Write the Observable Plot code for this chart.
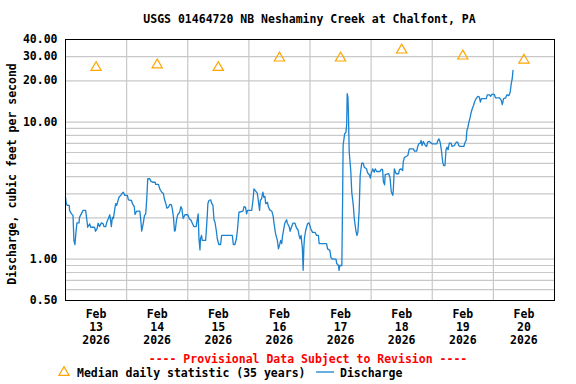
<!DOCTYPE html>
<html><head><meta charset="utf-8">
<script src="https://cdn.jsdelivr.net/npm/d3@7"></script>
<script src="https://cdn.jsdelivr.net/npm/@observablehq/plot@0.6"></script>
<style>body{margin:0;background:#fff} svg{display:block}</style>
</head><body><div id="chart"></div>
<script>
// Discharge: hours since 2026-02-13 00:00, cfs
const hours = [0,0.3,0.7,1.5,1.6,2.3,2.95,3.3,3.7,4.1,4.5,5.3,5.5,6.3,6.9,7.9,8.5,8.7,9.5,9.9,11.4,11.8,12.4,12.8,13.4,14.1,14.8,15.1,15.8,16.2,16.8,17.4,17.7,18.0,18.4,18.8,19.3,19.7,20.1,20.7,21.0,21.7,22.3,22.7,23.3,24.3,24.7,25.9,26.3,27.0,27.3,27.9,29.2,29.7,29.9,30.5,31.0,31.5,31.9,32.3,33.1,33.5,34.2,35.2,35.4,36.5,37.0,37.8,38.4,38.8,39.4,39.8,40.4,41.0,41.6,42.0,42.4,42.8,43.1,43.6,44.1,44.7,45.0,45.3,45.7,46.2,46.9,48.0,48.6,49.3,49.8,50.4,51.3,51.7,52.1,52.4,52.8,53.0,53.4,53.7,55.0,55.3,55.7,55.9,56.3,57.0,57.4,57.9,58.3,58.7,59.2,59.6,60.2,60.9,61.3,65.5,65.9,66.5,67.1,67.5,68.1,69.7,70.1,70.7,71.1,71.5,73.1,73.6,74.0,75.0,75.3,75.7,76.2,76.5,77.0,77.5,77.9,78.3,78.6,79.3,79.7,80.2,81.0,81.5,81.9,82.5,83.2,83.6,84.1,84.5,84.9,85.2,85.6,86.1,86.8,87.1,87.8,88.2,88.7,89.3,90.1,90.7,91.3,91.7,92.1,92.5,92.8,93.0,93.3,93.6,93.8,94.3,95.0,95.6,96.3,97.0,98.0,98.6,99.3,99.6,102.5,102.9,103.8,104.2,104.9,106.2,106.5,107.2,107.4,107.7,108.5,108.8,109.0,109.6,110.1,110.4,110.6,110.9,111.1,111.4,112.0,112.4,113.0,113.4,114.0,114.4,114.8,115.3,115.7,116.3,116.9,117.3,118.2,118.6,119.3,119.7,120.0,120.6,121.2,121.6,122.2,123.5,123.9,124.5,124.8,125.3,125.5,126.9,127.4,127.9,128.5,128.7,129.1,129.8,130.8,131.1,131.7,132.4,132.6,133.0,133.7,134.4,135.0,136.6,137.0,137.9,138.3,138.7,139.3,139.6,140.0,140.5,141.3,141.8,142.2,142.9,143.9,145.8,146.2,146.6,147.1,147.6,148.1,148.5,149.0,149.4,149.8,150.2,150.7,151.4,151.8,152.7,153.4,154.0,154.4,154.9,156.4,156.9,157.3,157.6,158.0,158.4,158.9,159.3,159.7,160.2,160.6,161.2,161.9,162.5,162.9,163.3,165.2,165.6,166.5,166.9,167.4,168.4,168.8,170.4,171.1,171.5,172.0,172.8,173.3,174.1,174.6,175.0,175.4,175.7];
const cfs = [2.83,2.54,2.47,2.47,2.27,2.15,2.08,1.37,1.28,1.57,1.84,1.84,2.02,2.16,2.27,2.27,1.86,1.71,1.81,1.71,1.71,1.60,1.67,1.83,1.73,1.84,1.81,1.73,1.73,1.86,1.97,2.11,1.92,1.73,2.02,1.98,2.29,2.54,2.47,2.71,2.83,2.92,3.03,3.08,2.92,2.92,2.71,2.68,2.54,2.42,2.12,2.24,2.24,1.81,1.60,1.81,2.08,2.14,2.76,3.86,3.86,3.71,3.64,3.64,3.51,3.51,3.26,3.08,3.03,2.76,2.54,2.36,2.39,2.51,2.49,2.29,2.02,1.60,1.62,1.94,2.12,2.18,2.27,2.42,2.33,1.98,2.11,2.11,1.97,1.92,1.83,1.73,1.73,1.92,2.14,1.41,1.17,1.41,1.49,1.37,1.37,1.62,2.14,2.54,2.68,2.71,2.55,2.47,1.94,1.86,1.62,1.41,1.28,1.28,1.49,1.49,1.28,1.28,1.41,1.62,2.20,2.24,2.42,2.39,2.14,2.27,2.27,2.68,3.26,3.08,3.03,2.68,2.27,2.68,2.76,3.08,2.83,2.87,2.54,2.60,2.39,2.29,2.24,2.08,1.81,1.53,1.37,1.19,1.28,1.37,1.30,1.47,1.62,1.83,1.94,1.83,1.73,1.60,1.71,1.83,1.83,1.69,1.64,1.49,1.41,1.49,1.30,1.22,0.83,1.22,1.41,1.62,1.81,1.84,1.67,1.57,1.57,1.49,1.49,1.30,1.30,1.19,1.16,1.03,1.00,1.00,0.93,0.90,0.83,0.90,0.90,2.68,6.75,8.21,8.43,9.55,16.1,15.2,11.2,6.03,4.43,3.08,2.47,1.97,1.62,1.49,1.57,2.27,4.08,5.01,5.01,4.69,4.56,4.27,4.13,3.90,4.20,4.56,4.31,4.56,4.36,4.36,4.51,4.51,3.69,3.49,4.13,4.20,3.96,3.12,2.92,3.17,4.56,4.20,4.20,4.48,4.56,4.43,5.10,5.49,5.61,5.70,6.38,6.38,6.14,6.14,6.64,6.94,7.01,7.34,6.75,7.22,6.75,6.64,7.13,7.22,6.94,6.94,7.34,7.55,7.13,6.21,5.10,4.82,4.82,6.28,6.56,6.28,7.01,7.01,6.64,6.75,7.13,7.13,6.75,6.64,6.64,7.13,7.34,8.68,9.17,9.98,10.85,11.8,12.5,13.2,14.0,14.8,15.4,15.2,14.0,14.8,14.8,15.8,15.8,15.4,15.9,15.9,15.0,15.0,14.4,13.4,14.8,15.0,15.8,15.6,16.5,19.0,20.7,23.8];
// Median daily statistic (35 years)
const medianDays = [13,14,15,16,17,18,19,20];
const medianCfs = [25.0,26.1,25.0,29.3,29.3,33.5,30.3,28.3];
// Axis ticks / grid
const yTickValues = [0.5,1,10,20,30,40];
const yGridValues = [0.6,0.7,0.8,0.9,1,2,3,4,5,6,7,8,9,10,20,30];
const xGridDays = [14,15,16,17,18,19,20];
const xLabelDays = [13,14,15,16,17,18,19,20];

const t0 = Date.UTC(2026,1,13);
const flow = hours.map((h,i)=>({date:new Date(t0+h*3600e3), cfs:cfs[i]}));
const med = medianDays.map((d,i)=>({date:new Date(Date.UTC(2026,1,d,12)), cfs:medianCfs[i]}));
const xGrid = xGridDays.map(d=>new Date(Date.UTC(2026,1,d)));
const xLabels = xLabelDays.map(d=>new Date(Date.UTC(2026,1,d,12)));

const font = "'DejaVu Sans Mono', monospace";
const chart = Plot.plot({
  width:576, height:384,
  marginLeft:65, marginRight:22, marginTop:39, marginBottom:84,
  style:{fontFamily:font, fontWeight:"bold", fontSize:"11.5px", background:"white", color:"black", overflow:"visible"},
  x:{type:"utc", domain:[new Date(Date.UTC(2026,1,13)), new Date(Date.UTC(2026,1,21))]},
  y:{type:"log", domain:[0.5,40]},
  marks:[
    Plot.ruleY(yGridValues,{stroke:"#c8c8c8", strokeWidth:1.2}),
    Plot.ruleX(xGrid,{stroke:"#c8c8c8", strokeWidth:1.2}),
    Plot.axisY({ticks:yTickValues, tickSize:0, tickPadding:8, tickFormat:d=>d.toFixed(2), label:null, fill:"black", fontSize:11.5}),
    Plot.axisX({ticks:xLabels, tickSize:0, tickPadding:8, tickFormat:d=>`Feb\n${d.getUTCDate()}\n2026`, label:null, lineHeight:1.13, fill:"black", fontSize:11.5}),
    Plot.line(flow,{x:"date", y:"cfs", stroke:"#1a82cf", strokeWidth:1.3}),
    Plot.dot(med,{x:"date", y:"cfs", symbol:"triangle", r:3.8, stroke:"#ffa500", strokeWidth:1.2, fill:"none"}),
    Plot.frame({stroke:"black", strokeWidth:1})
  ]
});
document.getElementById("chart").appendChild(chart);

const svg = d3.select(chart);
const txt = (x,y,s,opts={}) => svg.append("text").attr("x",x).attr("y",y)
  .attr("font-family",font).attr("font-weight","bold").attr("font-size",opts.size||"11.5px")
  .attr("fill",opts.fill||"black").attr("text-anchor",opts.anchor||"middle")
  .attr("transform",opts.transform||null).text(s);
txt(309.5,23,"USGS 01464720 NB Neshaminy Creek at Chalfont, PA");
txt(0,0,"Discharge, cubic feet per second",{transform:"translate(16,174) rotate(-90)"});
txt(308,363,"---- Provisional Data Subject to Revision ----",{fill:"#ff0000"});
// legend
svg.append("path").attr("d",d3.symbol(d3.symbolTriangle,45)()).attr("transform","translate(64,372.5)")
  .attr("fill","none").attr("stroke","#ffa500").attr("stroke-width",1.2);
txt(77,377,"Median daily statistic (35 years)",{anchor:"start"});
svg.append("line").attr("x1",316).attr("x2",334).attr("y1",372).attr("y2",372).attr("stroke","#1a82cf").attr("stroke-width",1.3);
txt(340,377,"Discharge",{anchor:"start"});
</script>
</body></html>
